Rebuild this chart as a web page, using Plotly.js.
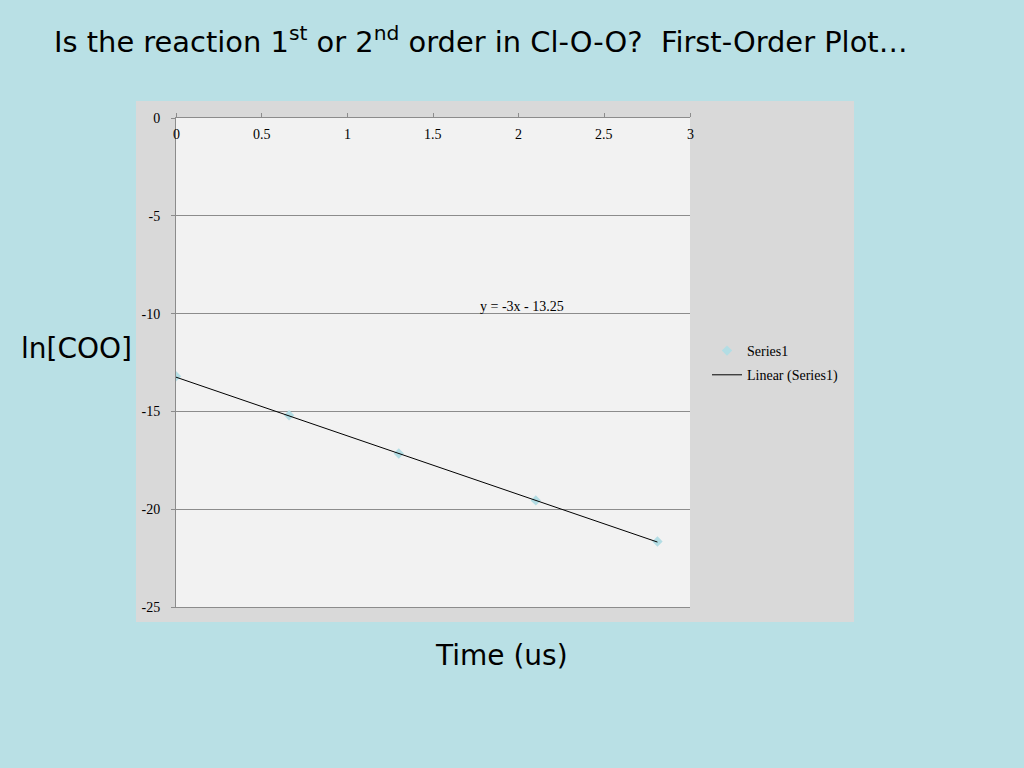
<!DOCTYPE html>
<html>
<head>
<meta charset="utf-8">
<script src="https://cdn.plot.ly/plotly-3.0.1.min.js"></script>
<style>html,body{margin:0;padding:0;background:#b9e0e5;}#chart{width:1024px;height:768px;}</style>
</head>
<body>
<div id="chart"></div>
<script>
// Data
var timeValues = [0, 0.66, 1.3, 2.1, 2.81];
var lnCOOValues = [-13.2, -15.2, -17.15, -19.55, -21.65];
var trendSlope = -3;
var trendIntercept = -13.25;
var xTickValues = [0, 0.5, 1, 1.5, 2, 2.5, 3];
var xTickLabels = ['0', '0.5', '1', '1.5', '2', '2.5', '3'];
var yTickValues = [0, -5, -10, -15, -20, -25];
var yTickLabels = ['0', '-5', '-10', '-15', '-20', '-25'];

var xMin = Math.min.apply(null, timeValues);
var xMax = Math.max.apply(null, timeValues);
var trendX = [xMin, xMax];
var trendY = trendX.map(function (x) { return trendSlope * x + trendIntercept; });

var serif = 'Liberation Serif, Times New Roman, serif';
var sans = 'DejaVu Sans, Verdana, sans-serif';

var traces = [
  {
    x: timeValues, y: lnCOOValues, type: 'scatter', mode: 'markers', name: 'Series1',
    legendgroup: 'a',
    marker: {symbol: 'diamond', size: 8, color: '#b3dde4'}
  },
  {
    x: trendX, y: trendY, type: 'scatter', mode: 'lines', name: 'Linear (Series1)',
    legendgroup: 'b',
    line: {color: '#000000', width: 1}
  }
];

var L = 176, R = 690, T = 118, B = 607;
var W = R - L, H = B - T;
function px(x) { return (x - L) / W; }
function py(y) { return (B - y) / H; }

var tickAnn = xTickValues.map(function (v, i) {
  return {text: xTickLabels[i], xref: 'x', yref: 'paper', x: v, y: py(135),
          xanchor: 'center', yanchor: 'middle', showarrow: false,
          font: {family: serif, size: 14, color: '#000'}};
});

var layout = {
  width: 1024, height: 768,
  margin: {l: L, r: 1024 - R, t: T, b: 768 - B, pad: 0},
  paper_bgcolor: '#b9e0e5',
  plot_bgcolor: 'rgba(0,0,0,0)',
  showlegend: true,
  legend: {
    x: px(707), y: py(335), xanchor: 'left', yanchor: 'top',
    bgcolor: 'rgba(0,0,0,0)', font: {family: serif, size: 14, color: '#000'},
    traceorder: 'grouped', tracegroupgap: 3, itemwidth: 30
  },
  xaxis: {
    range: [0, 3], side: 'top', tickvals: xTickValues, ticktext: xTickLabels,
    showticklabels: false,
    showgrid: false, zeroline: false, showline: true, mirror: true,
    linecolor: '#8c8c8c', linewidth: 1,
    ticks: 'outside', ticklen: 4, tickcolor: '#8c8c8c'
  },
  yaxis: {
    range: [-25, 0], tickvals: yTickValues, ticktext: yTickLabels,
    showgrid: true, gridcolor: '#8c8c8c', gridwidth: 1,
    zeroline: false, showline: true, linecolor: '#8c8c8c', linewidth: 1,
    ticks: 'outside', ticklen: 4, tickcolor: '#8c8c8c',
    ticklabelstandoff: 8,
    tickfont: {family: serif, size: 14, color: '#000'}
  },
  shapes: [
    {type: 'rect', xref: 'paper', yref: 'paper', x0: px(136), x1: px(854), y0: py(622), y1: py(101),
     fillcolor: '#d9d9d9', line: {width: 0}, layer: 'below'},
    {type: 'rect', xref: 'paper', yref: 'paper', x0: 0, x1: 1, y0: 0, y1: 1,
     fillcolor: '#f2f2f2', line: {width: 0}, layer: 'below'}
  ],
  annotations: [
    {text: 'Is the reaction 1<sup>st</sup> or 2<sup>nd</sup> order in Cl-O-O?  First-Order Plot…',
     xref: 'paper', yref: 'paper', x: px(52), y: py(40), xanchor: 'left', yanchor: 'middle',
     showarrow: false, font: {family: sans, size: 28.9, color: '#000'}},
    {text: 'ln[COO]', xref: 'paper', yref: 'paper', x: px(19), y: py(348), xanchor: 'left', yanchor: 'middle',
     showarrow: false, font: {family: sans, size: 28, color: '#000'}},
    {text: 'Time (us)', xref: 'paper', yref: 'paper', x: px(501), y: py(655), xanchor: 'center', yanchor: 'middle',
     showarrow: false, font: {family: sans, size: 28, color: '#000'}},
    {text: 'y = -3x - 13.25', xref: 'paper', yref: 'paper', x: px(522), y: py(306), xanchor: 'center', yanchor: 'middle',
     showarrow: false, font: {family: serif, size: 14, color: '#000'}}
  ].concat(tickAnn)
};

Plotly.newPlot('chart', traces, layout, {displayModeBar: false, staticPlot: true});
</script>
</body>
</html>
